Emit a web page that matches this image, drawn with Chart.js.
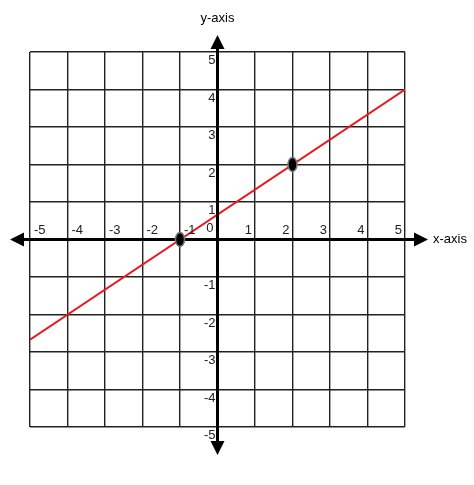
<!DOCTYPE html>
<html>
<head>
<meta charset="utf-8">
<script src="https://cdn.jsdelivr.net/npm/chart.js@4"></script>
<style>
  html, body { margin: 0; padding: 0; background: #fff; }
  #wrap { width: 474px; height: 485px; }
</style>
</head>
<body>
<div id="wrap"><canvas id="plot" width="474" height="485"></canvas></div>
<script>
// line endpoints and marked points
const lineX = [-5, 5];
const lineY = [-2.67, 4];
const pointX = [-1, 2];
const pointY = [0, 2];
const tickValues = [-5, -4, -3, -2, -1, 0, 1, 2, 3, 4, 5];

const FONT = "13px 'Liberation Sans', Arial, sans-serif";

// axes, arrows, tick labels and marked points
const axesPlugin = {
    id: "axes",
    afterDatasetsDraw(chart) {
        const ctx = chart.ctx;
        const xs = chart.scales.x;
        const ys = chart.scales.y;
        const x0 = xs.getPixelForValue(0);
        const y0 = ys.getPixelForValue(0);
        const left = 10, right = 428, top = 35, bottom = 455;

        ctx.save();
        ctx.strokeStyle = "#000";
        ctx.fillStyle = "#000";
        ctx.lineWidth = 3;
        ctx.beginPath();
        ctx.moveTo(left + 8, y0); ctx.lineTo(right - 8, y0);
        ctx.moveTo(x0, top + 8); ctx.lineTo(x0, bottom - 8);
        ctx.stroke();

        const arrow = (tx, ty, ax, ay, bx, by) => {
            ctx.beginPath();
            ctx.moveTo(tx, ty); ctx.lineTo(ax, ay); ctx.lineTo(bx, by);
            ctx.closePath(); ctx.fill();
        };
        arrow(left, y0, left + 14, y0 - 7, left + 14, y0 + 7);
        arrow(right, y0, right - 14, y0 - 7, right - 14, y0 + 7);
        arrow(x0, top, x0 - 7, top + 14, x0 + 7, top + 14);
        arrow(x0, bottom, x0 - 7, bottom - 14, x0 + 7, bottom - 14);

        ctx.font = FONT;
        ctx.fillStyle = "#222";
        ctx.textBaseline = "bottom";
        tickValues.forEach(v => {
            if (v === 0) return;
            const px = xs.getPixelForValue(v);
            if (v < 0) {
                ctx.textAlign = "left";
                ctx.fillText(String(v), px + 4, y0 - 3);
            } else {
                ctx.textAlign = "right";
                ctx.fillText(String(v), px - 3, y0 - 3);
            }
        });
        ctx.textAlign = "right";
        ctx.textBaseline = "top";
        tickValues.forEach(v => {
            if (v === 0) return;
            ctx.fillText(String(v), x0 - 2, ys.getPixelForValue(v) + 2);
        });
        ctx.fillText("0", x0 - 4, y0 - 18);

        ctx.fillStyle = "#000";
        ctx.textAlign = "center";
        ctx.textBaseline = "middle";
        ctx.fillText("y-axis", x0, 18);
        ctx.textAlign = "left";
        ctx.fillText("x-axis", 433, y0);

        pointX.forEach((px, i) => {
            const cx = xs.getPixelForValue(px);
            const cy = ys.getPixelForValue(pointY[i]);
            ctx.beginPath();
            ctx.ellipse(cx, cy, 4.5, 7, 0, 0, Math.PI * 2);
            ctx.fillStyle = "#000";
            ctx.fill();
            ctx.lineWidth = 1.5;
            ctx.strokeStyle = "#777";
            ctx.stroke();
        });
        ctx.restore();
    }
};

new Chart(document.getElementById("plot"), {
    type: "scatter",
    data: {
        datasets: [{
            data: lineX.map((x, i) => ({ x: x, y: lineY[i] })),
            showLine: true,
            borderColor: "#e8191c",
            borderWidth: 2,
            pointRadius: 0
        }]
    },
    options: {
        responsive: false,
        animation: false,
        layout: { padding: { left: 30, right: 69, top: 52, bottom: 58 } },
        plugins: { legend: { display: false }, tooltip: { enabled: false } },
        scales: {
            x: {
                type: "linear", min: -5, max: 5,
                ticks: { display: false, stepSize: 1 },
                grid: { color: "#222", lineWidth: 1.4, drawTicks: false },
                border: { display: false }
            },
            y: {
                type: "linear", min: -5, max: 5,
                ticks: { display: false, stepSize: 1 },
                grid: { color: "#222", lineWidth: 1.4, drawTicks: false },
                border: { display: false }
            }
        }
    },
    plugins: [axesPlugin]
});
</script>
</body>
</html>
